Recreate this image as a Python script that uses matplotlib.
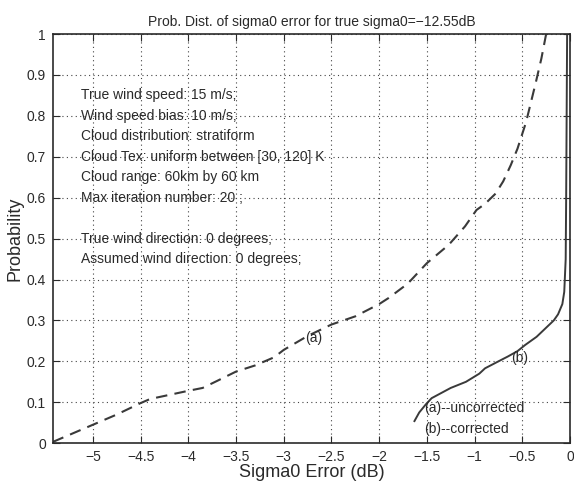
import matplotlib
matplotlib.use("Agg")
import matplotlib.pyplot as plt

plt.rcParams['font.family'] = ['Liberation Sans', 'DejaVu Sans']

# curve (a): uncorrected sigma0 error distribution
err_a = [-5.42, -5.2, -5.0, -4.75, -4.5, -4.4, -4.2, -4.0, -3.85, -3.7, -3.5, -3.3,
         -3.1, -3.0, -2.75, -2.5, -2.25, -2.0, -1.9, -1.7, -1.5, -1.27, -1.1, -0.98,
         -0.89, -0.78, -0.7, -0.62, -0.55, -0.46, -0.36, -0.3, -0.25]
prob_a = [0.003, 0.025, 0.045, 0.07, 0.098, 0.108, 0.118, 0.128, 0.135, 0.152, 0.175, 0.19,
          0.21, 0.228, 0.262, 0.29, 0.31, 0.34, 0.355, 0.39, 0.44, 0.485, 0.53, 0.57,
          0.585, 0.61, 0.64, 0.68, 0.72, 0.785, 0.88, 0.94, 1.0]

# curve (b): corrected
err_b = [-1.63, -1.58, -1.51, -1.45, -1.37, -1.25, -1.09, -0.95, -0.89, -0.75, -0.65,
         -0.55, -0.47, -0.35, -0.26, -0.17, -0.125, -0.08, -0.06, -0.045, -0.04, -0.035, -0.03]
prob_b = [0.054, 0.075, 0.095, 0.11, 0.12, 0.135, 0.15, 0.17, 0.183, 0.2, 0.212,
          0.225, 0.24, 0.26, 0.28, 0.3, 0.315, 0.34, 0.37, 0.45, 0.6, 0.8, 1.0]

x_ticks = [-5, -4.5, -4, -3.5, -3, -2.5, -2, -1.5, -1, -0.5, 0]
y_ticks = [0, 0.1, 0.2, 0.3, 0.4, 0.5, 0.6, 0.7, 0.8, 0.9, 1]

info_lines = ["True wind speed: 15 m/s;",
              "Wind speed bias: 10 m/s;",
              "Cloud distribution: stratiform",
              "Cloud Tex: uniform between [30, 120] K",
              "Cloud range: 60km by 60 km",
              "Max iteration number: 20 ;",
              "True wind direction: 0 degrees;",
              "Assumed wind direction: 0 degrees;"]
info_y = [0.85, 0.8, 0.75, 0.7, 0.65, 0.6, 0.5, 0.45]

ink = "#2a2a2a"

fig = plt.figure(figsize=(5.74, 4.87), dpi=100)
ax = fig.add_axes([0.092, 0.09, 0.901, 0.84])

ax.plot(err_a, prob_a, color="#3a3a3a", linestyle=(0, (5.5, 3.5)), linewidth=1.5)
ax.plot(err_b, prob_b, color="#3a3a3a", linestyle="-", linewidth=1.4)

ax.set_xlim(-5.42, 0)
ax.set_ylim(0, 1)
ax.set_xticks(x_ticks)
ax.set_yticks(y_ticks)
ax.set_xticklabels(["\u22125", "\u22124.5", "\u22124", "\u22123.5", "\u22123", "\u22122.5",
                    "\u22122", "\u22121.5", "\u22121", "\u22120.5", "0"])
ax.set_yticklabels(["0", "0.1", "0.2", "0.3", "0.4", "0.5", "0.6", "0.7", "0.8", "0.9", "1"])
ax.grid(True, linestyle=(0, (1, 3)), color="#444444", linewidth=0.8)
ax.tick_params(direction="in", top=True, right=True, length=5, labelsize=10,
               colors=ink, pad=5)
for sp in ax.spines.values():
    sp.set_color(ink)
    sp.set_linewidth(1.2)

ax.set_title("Prob. Dist. of sigma0 error for true sigma0=\u221212.55dB",
             fontsize=10, color=ink, pad=6)
ax.set_xlabel("Sigma0 Error (dB)", fontsize=13, color=ink, labelpad=0)
ax.set_ylabel("Probability", fontsize=13, color=ink, labelpad=2)

for txt, yy in zip(info_lines, info_y):
    ax.text(-5.12, yy, txt, fontsize=10, color=ink, va="center", ha="left")

ax.text(-2.78, 0.258, "(a)", fontsize=10, color=ink, va="center", ha="left")
ax.text(-0.62, 0.207, "(b)", fontsize=10, color=ink, va="center", ha="left")
ax.text(-1.53, 0.087, "(a)--uncorrected", fontsize=10, color=ink, va="center", ha="left")
ax.text(-1.53, 0.035, "(b)--corrected", fontsize=10, color=ink, va="center", ha="left")

fig.savefig("out.png", dpi=100)
